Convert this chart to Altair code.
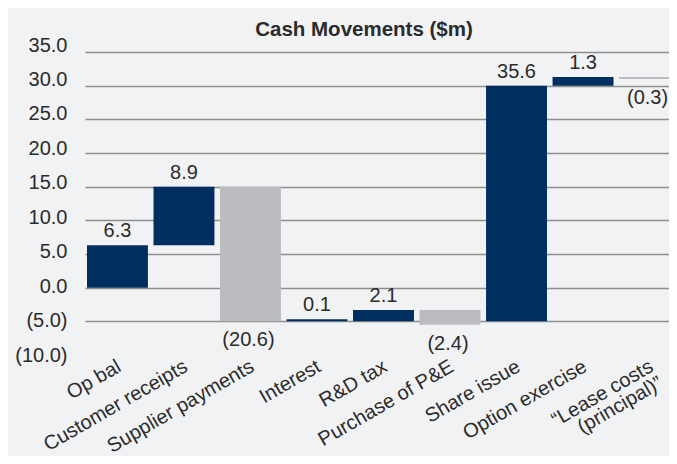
import altair as alt
import pandas as pd

# ---- data ----
categories = ["Op bal", "Customer receipts", "Supplier payments", "Interest", "R&D tax",
              "Purchase of P&E", "Share issue", "Option exercise", "“Lease costs\n(principal)”"]
values = [6.3, 8.9, -20.6, 0.1, 2.1, -2.4, 35.6, 1.3, -0.3]
bar_start = [0.0, 6.3, 15.0, -5.0, -5.0, -3.3, -5.0, 30.0, 31.3]
bar_end = [6.3, 15.0, -5.0, -4.7, -3.3, -5.5, 30.0, 31.3, 31.0]
grid_values = [-5, 0, 5, 10, 15, 20, 25, 30, 35]
tick_labels = [35, 30, 25, 20, 15, 10, 5, 0, -5, -10]

NAVY = "#002F5F"
GREY = "#BBBCC0"
TXT = "#2B2B2B"
FONT = "Liberation Sans"

def fmt(v):
    return f"({abs(v):.1f})" if v < 0 else f"{v:.1f}"

df = pd.DataFrame({
    "cat": categories,
    "value": values,
    "start": bar_start,
    "end": bar_end,
})
df["top"] = df[["start", "end"]].max(axis=1)
df["bottom"] = df[["start", "end"]].min(axis=1)
df["label"] = [fmt(v) for v in values]
df["kind"] = ["pos" if v >= 0 else "neg" for v in values]

x_enc = alt.X(
    "cat:N", sort=categories,
    scale=alt.Scale(range=[0, 597], paddingInner=0.084, paddingOuter=0.03),
    axis=alt.Axis(title=None, labelAngle=330, labelAlign="right", labelBaseline="top",
                  labelPadding=1, labelOffset=-3, labelFontSize=20, labelFont=FONT,
                  labelColor=TXT, ticks=False, domain=False, grid=False,
                  labelOverlap=False, labelLimit=0, labelLineHeight=19,
                  labelExpr="split(datum.label, '\\n')"),
)

bar_scale = alt.Scale(domain=[-10, 36.06], nice=False, zero=False)
bar_axis = alt.Axis(orient="left", title=None, values=grid_values, labels=False,
                    ticks=False, domain=False, grid=True, gridColor="#8E8E8E",
                    gridWidth=1.5)

base = alt.Chart(df)

bars = base.mark_bar().encode(
    x=x_enc,
    y=alt.Y("start:Q", scale=bar_scale, axis=bar_axis),
    y2="end:Q",
    color=alt.Color("kind:N", scale=alt.Scale(domain=["pos", "neg"], range=[NAVY, GREY]),
                    legend=None),
)

pos_text = base.transform_filter("datum.kind == 'pos'").mark_text(
    fontSize=20, font=FONT, color=TXT, baseline="alphabetic", dy=-8
).encode(
    x=x_enc,
    y=alt.Y("top:Q", scale=bar_scale, axis=bar_axis),
    text="label:N",
)

neg_text = base.transform_filter("datum.kind == 'neg'").mark_text(
    fontSize=20, font=FONT, color=TXT, baseline="alphabetic", dy=25, dx=-2
).encode(
    x=x_enc,
    y=alt.Y("bottom:Q", scale=bar_scale, axis=bar_axis),
    text="label:N",
)

inner = alt.layer(bars, pos_text, neg_text)

label_df = pd.DataFrame({"v": tick_labels})
label_axis = alt.Chart(label_df).mark_point(opacity=0).encode(
    y=alt.Y("v:Q", scale=alt.Scale(domain=[-10, 35], nice=False, zero=False),
            axis=alt.Axis(orient="left", title=None, values=tick_labels, grid=False,
                          ticks=False, domain=False, labelPadding=18, labelFontSize=20,
                          labelFont=FONT, labelColor=TXT, labelBaseline="middle",
                          labelExpr="datum.value < 0 ? '(' + format(-datum.value, '.1f') + ')' : format(datum.value, '.1f')")),
)

chart = alt.layer(inner, label_axis).resolve_scale(y="independent").properties(
    width=584,
    height=310,
    autosize="none",
    padding={"left": 77, "top": 37, "right": 0, "bottom": 101},
    title=alt.TitleParams("Cash Movements ($m)", fontSize=20.5, fontWeight="bold",
                          font=FONT, color=TXT, anchor="middle", dx=-13, dy=27, offset=6,
                          baseline="alphabetic"),
).configure(background="#F1F2F4").configure_view(stroke=None)

chart.save("out.html", embed_options={"renderer": "svg", "actions": False})
